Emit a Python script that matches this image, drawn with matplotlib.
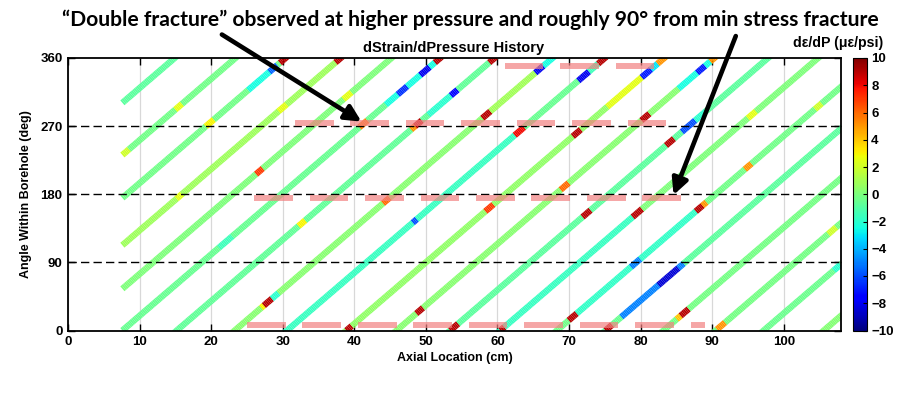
import numpy as np
import matplotlib
matplotlib.use("Agg")
import matplotlib.pyplot as plt
from matplotlib.collections import LineCollection
from matplotlib.colors import Normalize

plt.rcParams['font.family'] = ['Liberation Sans', 'DejaVu Sans']

# helical fiber passes: axial location (cm) where each pass is at 0 deg
trace_x0 = [-29.5, -21.0, -14.0, -6.3, 0.8, 7.6, 15.2, 23.3, 30.6, 38.9,
            45.9, 53.4, 60.4, 68.3, 75.1, 83.2, 90.5, 97.2, 105.6]
# background dStrain/dPressure along each pass (ue/psi)
trace_base = [-0.8, -0.3, -0.3, 0.8, 0.0, -0.5, -0.7, 0.3, -1.7, 0.5,
              0.3, -0.8, -1.7, -0.3, -0.8, -0.2, -0.2, -0.4, 0.2]
pitch = 44.4      # cm of axial travel per 360 deg
x_first = 7.6     # first sensed location (cm)

# local anomalies: pass index, angle from, angle to, value
hot_trace = [1, 1,
             2, 2, 2, 2,
             3, 3, 3,
             4, 4,
             5, 5, 5, 5, 5, 5, 5, 5,
             6, 6, 6, 6, 6, 6,
             7, 7, 7, 7, 7, 7, 7, 7,
             8, 8, 8, 8, 8, 8,
             9, 9, 9, 9, 9, 9, 9,
             10, 10, 10, 10, 10, 10, 10,
             11, 11, 11, 11, 11,
             12, 12, 12, 12,
             13, 13, 13, 13, 13, 13, 13,
             14, 14, 14, 14, 14,
             15, 15,
             16, 16,
             17]
hot_a0 = [228, 292,
          270, 318, 342, 354,
          174, 290, 354,
          206, 306,
          110, 268, 298, 312, 322, 338, 348, 354,
          138, 266, 270, 285, 310, 354,
          30, 33, 42, 168, 280, 290, 340, 350,
          142, 258, 268, 330, 342, 352,
          0, 157, 256, 295, 335, 345, 352,
          22, 186, 277, 320, 340, 350, 355,
          0, 150, 244, 262, 277,
          0, 150, 160, 281,
          14, 22, 84, 157, 165, 213, 292,
          0, 8, 18, 60, 82,
          15, 19,
          2, 128,
          80]
hot_a1 = [240, 300,
          278, 342, 350, 362,
          180, 298, 362,
          214, 314,
          125, 277, 312, 322, 338, 348, 354, 362,
          146, 270, 278, 310, 318, 362,
          33, 42, 50, 176, 290, 340, 350, 362,
          147, 268, 330, 342, 352, 362,
          6, 166, 265, 335, 345, 352, 362,
          30, 195, 286, 340, 350, 355, 362,
          9, 159, 253, 277, 290,
          5, 160, 362, 289,
          22, 157, 94, 165, 170, 221, 300,
          8, 18, 60, 82, 88,
          19, 28,
          10, 136,
          87]
hot_val = [2, 2.5,
           3, -2.5, -5.5, 9,
           2.5, 2.5, 9,
           7, 2.5,
           -1.5, 5.5, -2.5, -6.5, -2.5, -8, -2.5, 9,
           3, 5, 9, -2.0, -7.5, 9,
           3, 9, -2.0, 6, 9, 0.9, -8, -2.5,
           -6, 8, -0.5, -8, -1.5, 9,
           9, 7, 9, 2.5, -7, -3, 5,
           9, 6, 9, -2.5, -7, -2.5, 5,
           9, 9, 9, -6, -2.0,
           9, 9, 0.0, 2.5,
           9, -1.8, -5, 9, 5, 5, 2,
           9, -0.5, -5, -8.5, -5,
           4, 9,
           5, 2,
           -2.0]

# fracture indications (pink dashes): angle, axial start, axial end
frac_angle = [350, 274, 175, 7]
frac_x_start = [61.0, 31.7, 26.0, 25.0]
frac_x_end = [82.0, 83.7, 85.8, 89.0]

x_ticks = list(range(0, 101, 10))
y_ticks = [0, 90, 180, 270, 360]

fig = plt.figure(figsize=(9.08, 3.97), dpi=100)
ax = fig.add_axes([68 / 908, 66.5 / 397, 773 / 908, 272.5 / 397])
cax = fig.add_axes([853 / 908, 66.5 / 397, 14 / 908, 272.5 / 397])

norm = Normalize(-10, 10)
cmap = plt.get_cmap('jet')
slope = 360.0 / pitch
step = 1.5

for i, x0 in enumerate(trace_x0):
    a_lo = max(-3.0, (x_first - x0) * slope)
    a_hi = min(363.0, (108.5 - x0) * slope)
    if a_hi <= a_lo:
        continue
    a = np.arange(a_lo, a_hi + step, step)
    a[-1] = min(a[-1], a_hi)
    mid = 0.5 * (a[:-1] + a[1:])
    vals = np.full(mid.shape, trace_base[i])
    for t, h0, h1, v in zip(hot_trace, hot_a0, hot_a1, hot_val):
        if t == i:
            vals[(mid >= h0) & (mid < h1)] = v
    x = x0 + a / slope
    pts = np.column_stack([x, a])
    segs = np.stack([pts[:-1], pts[1:]], axis=1)
    lc = LineCollection(segs, cmap=cmap, norm=norm, linewidths=4.6,
                        capstyle='butt', zorder=2)
    lc.set_array(vals)
    ax.add_collection(lc)

dash, period = 5.4, 7.75
for ang, xs, xe in zip(frac_angle, frac_x_start, frac_x_end):
    for s in np.arange(xs, xe, period):
        ax.plot([s, min(s + dash, xe)], [ang, ang], color=(0.95, 0.5, 0.5),
                alpha=0.7, lw=4.3, solid_capstyle='butt', zorder=4)

for yv in [90, 180, 270]:
    ax.axhline(yv, color='black', lw=1.0, ls=(0, (6, 3)), zorder=3)

ax.set_xlim(0, 108)
ax.set_ylim(0, 360)
ax.set_xticks(x_ticks)
ax.set_yticks(y_ticks)
ax.grid(axis='x', color='#d8d8d8', lw=0.9)
ax.set_axisbelow(True)
ax.tick_params(direction='in', top=True, right=True, length=5, width=1.0,
               labelsize=9.5, pad=4)
for lab in ax.get_xticklabels() + ax.get_yticklabels():
    lab.set_fontweight('bold')
for sp in ax.spines.values():
    sp.set_linewidth(1.3)
ax.set_xlabel('Axial Location (cm)', fontsize=9, fontweight='bold', labelpad=3)
ax.set_ylabel('Angle Within Borehole (deg)', fontsize=9, fontweight='bold',
              labelpad=6)

sm = plt.cm.ScalarMappable(norm=norm, cmap=cmap)
cb = fig.colorbar(sm, cax=cax, ticks=list(range(-10, 11, 2)))
cb.outline.set_linewidth(0.8)
cax.tick_params(direction='in', length=3, labelsize=9.5, pad=3)
for lab in cax.get_yticklabels():
    lab.set_fontweight('bold')

fig.text(454 / 908, 1 - 48 / 397, 'dStrain/dPressure History', ha='center',
         va='center', fontsize=10.5, fontweight='bold')
fig.text(838 / 908, 1 - 43 / 397, 'd\u03b5/dP (\u03bc\u03b5/psi)', ha='center',
         va='center', fontsize=10.2, fontweight='bold')
fig.text(470 / 908, 1 - 20 / 397,
         '\u201cDouble fracture\u201d observed at higher pressure and roughly '
         '90\u00b0 from min stress fracture',
         ha='center', va='center', fontsize=15.2, fontweight='bold',
         family=['Lato', 'DejaVu Sans'])

arrow_tail = [(21.5, 391), (93.3, 389)]
arrow_tip = [(41.0, 276), (84.6, 179)]
for tail, tip in zip(arrow_tail, arrow_tip):
    ax.annotate('', xy=tip, xytext=tail, annotation_clip=False, zorder=6,
                arrowprops=dict(arrowstyle='-|>', color='black', lw=3.3,
                                mutation_scale=24, shrinkA=0, shrinkB=0))

fig.savefig('out.png', dpi=100)
